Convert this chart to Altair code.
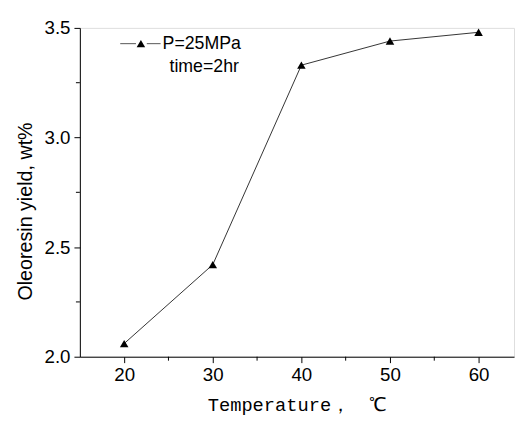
import altair as alt
import pandas as pd

temps = [20, 30, 40, 50, 60]
yields = [2.06, 2.42, 3.33, 3.44, 3.48]
x_ticks = [20, 30, 40, 50, 60]
x_minor = [25, 35, 45, 55]
y_ticks = [2.0, 2.5, 3.0, 3.5]
y_minor = [2.25, 2.75, 3.25]
legend_lines = ["P=25MPa", "time=2hr"]

df = pd.DataFrame({"T": temps, "Y": yields})
dfx = pd.DataFrame({"T": x_minor})
dfy = pd.DataFrame({"Y": y_minor})

SANS = "Liberation Sans"
xscale = alt.Scale(domain=[15, 64], nice=False, zero=False)
yscale = alt.Scale(domain=[2.0, 3.5], nice=False, zero=False)

xaxis = alt.Axis(values=x_ticks, tickSize=6, labelFontSize=19, labelFont=SANS,
                 labelColor="black", labelPadding=3, domainColor="black",
                 tickColor="black", grid=False, orient="bottom",
                 title="Temperature，　℃", titleFont="Liberation Mono",
                 titleFontSize=19, titleFontWeight="normal", titleColor="black",
                 titlePadding=12)
yaxis = alt.Axis(values=y_ticks, format=".1f", tickSize=6, labelFontSize=19,
                 labelFont=SANS, labelColor="black", labelPadding=4,
                 domainColor="black", tickColor="black", grid=False, orient="left",
                 title="Oleoresin yield, wt%", titleFont=SANS, titleFontSize=20,
                 titleFontWeight="normal", titleColor="black", titlePadding=9,
                 titleY=186)

base = alt.Chart(df)
line = base.mark_line(color="#333333", strokeWidth=1).encode(
    x=alt.X("T:Q", scale=xscale, axis=xaxis),
    y=alt.Y("Y:Q", scale=yscale, axis=yaxis),
)
pts = base.mark_point(shape="triangle-up", filled=True, color="black", size=75, opacity=1).encode(
    x=alt.X("T:Q", scale=xscale),
    y=alt.Y("Y:Q", scale=yscale),
)

xmin_ticks = alt.Chart(dfx).mark_rule(color="black", strokeWidth=1).encode(
    x=alt.X("T:Q", scale=xscale), y=alt.value(334), y2=alt.value(338))
ymin_ticks = alt.Chart(dfy).mark_rule(color="black", strokeWidth=1).encode(
    y=alt.Y("Y:Q", scale=yscale), x=alt.value(0), x2=alt.value(-4))

one = pd.DataFrame({"a": [0]})
leg1 = alt.Chart(one).mark_rule(color="#555555", strokeWidth=1).encode(
    x=alt.value(41), x2=alt.value(57), y=alt.value(16))
leg2 = alt.Chart(one).mark_rule(color="#555555", strokeWidth=1).encode(
    x=alt.value(68), x2=alt.value(82), y=alt.value(16))
legpt = alt.Chart(one).mark_point(
    shape="triangle-up", filled=True, color="black", size=75, opacity=1).encode(
    x=alt.value(62), y=alt.value(16))
legtxt1 = alt.Chart(pd.DataFrame({"t": [legend_lines[0]]})).mark_text(
    align="left", baseline="middle", font=SANS, fontSize=18, color="black").encode(
    x=alt.value(84), y=alt.value(16), text="t:N")
legtxt2 = alt.Chart(pd.DataFrame({"t": [legend_lines[1]]})).mark_text(
    align="left", baseline="middle", font=SANS, fontSize=18, color="black").encode(
    x=alt.value(91), y=alt.value(40), text="t:N")

chart = alt.layer(line, pts, xmin_ticks, ymin_ticks, leg1, leg2, legpt, legtxt1, legtxt2).properties(
    width=441, height=334,
    autosize=alt.AutoSizeParams(type="none"),
    padding={"left": 73, "top": 17, "right": 1, "bottom": 58},
).configure_view(stroke=None).configure(background="white")

chart.save("out.html", embed_options={"renderer": "svg", "actions": False})
